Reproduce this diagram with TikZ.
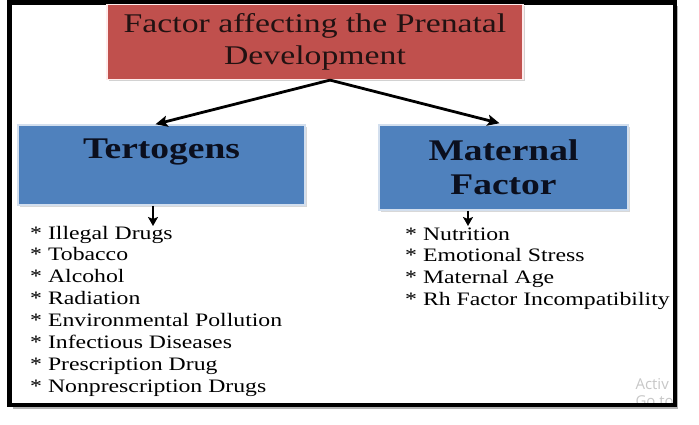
\documentclass[tikz,border=0pt]{standalone}
\usepackage{fontspec}
\setmainfont[FakeStretch=1.25]{Liberation Serif}
\newfontfamily\wmfont{Open Sans}
\usetikzlibrary{arrows.meta,shadows}

\definecolor{titlered}{HTML}{C0504D}
\definecolor{titleink}{HTML}{221212}
\definecolor{boxblue}{HTML}{4F81BD}
\definecolor{boxedge}{HTML}{D3DFEE}
\definecolor{boxink}{HTML}{0B0F1E}

\tikzset{
  titlebox/.style={fill=titlered, draw=red!8, line width=1.2pt, text=titleink,
    minimum width=416pt, minimum height=75pt, align=center,
    font=\fontsize{27}{32}\selectfont,
    drop shadow={shadow xshift=1.5pt, shadow yshift=-2pt, opacity=.35}},
  groupbox/.style={fill=boxblue, draw=boxedge, line width=1.5pt, text=boxink,
    align=center, font=\fontsize{30}{34}\selectfont\bfseries,
    drop shadow={shadow xshift=2pt, shadow yshift=-2pt, opacity=.3}},
  link/.style={-{Stealth[length=12pt,width=11pt,inset=2.5pt]}, line width=2.8pt},
  drop/.style={-{Stealth[length=9pt,width=10pt,inset=2pt]}, line width=2.4pt},
  entry/.style={anchor=base west, inner sep=0pt, font=\fontsize{19}{22}\selectfont}
}

\begin{document}
\begin{tikzpicture}[x=1pt,y=-1pt]
\useasboundingbox (0,0) rectangle (699,425);
% outer frame
\draw[fill=white, draw=none, drop shadow={shadow xshift=3pt, shadow yshift=-4pt, opacity=.6}]
  (9.5,2.5) rectangle (675,405);
\begin{scope}
\clip (0,0) rectangle (672,403);
\node[anchor=base west, text=black!22, font=\wmfont\fontsize{15}{15}\selectfont] (wm1) at (632,389) {Activ};
\node[anchor=base west, text=black!22, font=\wmfont\fontsize{15}{15}\selectfont] (wm2) at (632,406) {Go to};
\end{scope}
\draw[line width=4.8pt] (9.5,2.5) rectangle (675,405);

% boxes
\node[titlebox] (title) at (315,42) {Factor affecting the Prenatal\\Development};
\node[groupbox, minimum width=287pt, minimum height=80pt, text height=24pt, text depth=36pt]
  (terto) at (161.5,165) {Tertogens};
\node[groupbox, minimum width=249pt, minimum height=85pt] (mat) at (503.5,167.5) {Maternal\\Factor};

% connectors
\coordinate (fork) at ([xshift=15pt]title.south);
\draw[link] (fork) -- ([xshift=-6pt]terto.north);
\draw[link] (fork) -- ([xshift=-4pt,yshift=1pt]mat.north);
\coordinate (tdown) at (153,226);
\coordinate (mdown) at (468,226);
\draw[drop] (terto.south -| tdown) -- (tdown);
\draw[drop] (mat.south -| mdown) -- (mdown);

% lists
\foreach \txt [count=\i] in {Illegal Drugs, Tobacco, Alcohol, Radiation,
  Environmental Pollution, Infectious Diseases, Prescription Drug, Nonprescription Drugs}
  \node[entry] (ter\i) at (30,{239+21.86*(\i-1)}) {* \txt};
\foreach \txt [count=\i] in {Nutrition, Emotional Stress, Maternal Age, Rh Factor Incompatibility}
  \node[entry] (mat\i) at (405,{240+21.7*(\i-1)}) {* \txt};
\end{tikzpicture}
\end{document}
